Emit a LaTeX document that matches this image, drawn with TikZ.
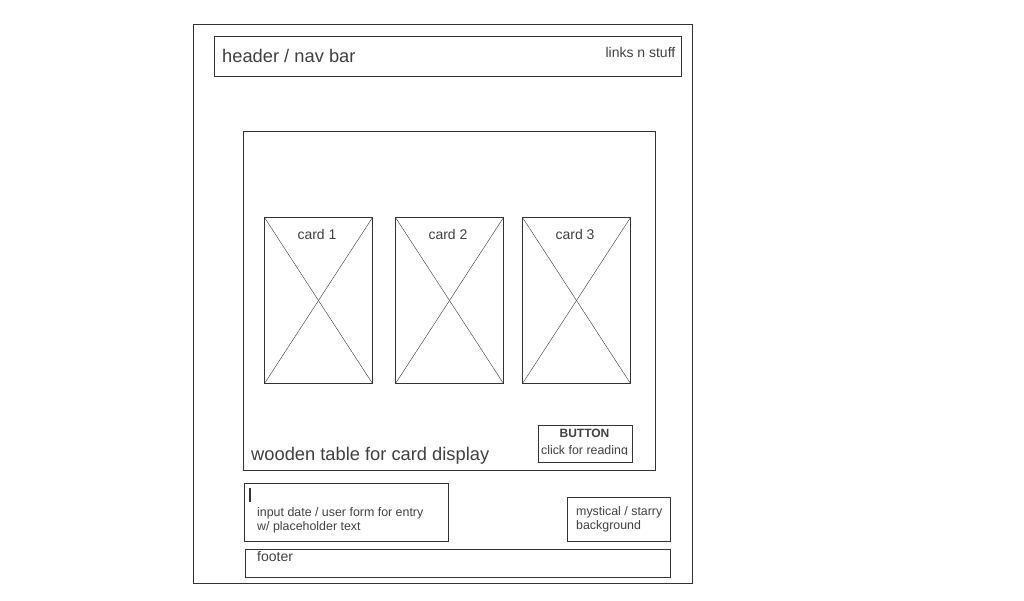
\documentclass[tikz,border=0pt]{standalone}
\usepackage{fontspec}
\setmainfont{Liberation Sans}
\definecolor{wire}{HTML}{333333}
\definecolor{ink}{HTML}{404040}
\tikzset{
  box/.style={draw=wire, line width=1pt, inner sep=0pt, outer sep=0pt, anchor=north west},
  card/.style={box, minimum width=108pt, minimum height=166pt},
  lbl/.style={text=ink, inner sep=0pt, anchor=base west},
  big/.style={font=\fontsize{18.3}{22}\selectfont},
  mid/.style={font=\fontsize{14}{17}\selectfont},
  small/.style={font=\fontsize{12.4}{14}\selectfont, align=left},
}
\begin{document}
\begin{tikzpicture}[x=1pt,y=-1pt]
  \useasboundingbox (0,0) rectangle (1024,600);

  % page frame
  \node[box, minimum width=499pt, minimum height=559pt] (page) at (193,24) {};

  % header
  \node[box, minimum width=467pt, minimum height=40pt] (header) at (214,36) {};
  \node[lbl, big] (headtxt) at (222,62.5) {header / nav bar};
  \node[lbl, mid, anchor=base east] (links) at (675.5,57) {links n stuff};

  % table with the cards
  \node[box, minimum width=412pt, minimum height=339pt] (table) at (243,131) {};
  \node[card] (card1) at (264.5,217.5) {};
  \node[card] (card2) at (395.5,217.5) {};
  \node[card] (card3) at (522.5,217.5) {};
  \foreach \c in {1,2,3} {
    \draw[wire] (card\c.north west) -- (card\c.south east);
    \draw[wire] (card\c.north east) -- (card\c.south west);
    \node[lbl, mid, anchor=base] (cardtxt\c) at ([xshift=-1.5pt,yshift=-22pt]card\c.north) {card \c};
  }
  \node[lbl, big] (tabletxt) at (251,460) {wooden table for card display};

  % button
  \node[box, minimum width=94pt, minimum height=37pt] (button) at (538,425) {};
  \begin{scope}
    \clip (538,425) rectangle (632,454.8);
    \node[lbl, font=\fontsize{12}{14}\selectfont\bfseries, anchor=base] (btntxt) at (584.5,437) {BUTTON};
    \node[lbl, font=\fontsize{12.4}{14}\selectfont, anchor=base] (btnsub) at (584.5,454) {click for reading};
  \end{scope}

  % form
  \node[box, minimum width=204pt, minimum height=58pt] (form) at (244,483.5) {};
  \draw[wire, line width=1.8pt] (250,487.5) -- (250,501.5);
  \node[lbl, small] (formtxt) at (257,530) {input date / user form for entry\\w/ placeholder text};

  % background note
  \node[box, minimum width=103.5pt, minimum height=44pt] (bgnote) at (567.3,497.3) {};
  \node[lbl, small] (bgtxt) at (576,529.5) {mystical / starry\\background};

  % footer
  \node[box, minimum width=425.5pt, minimum height=28pt] (footer) at (245.3,549) {};
  \node[lbl, mid] (foottxt) at (257,561.5) {footer};
\end{tikzpicture}
\end{document}
